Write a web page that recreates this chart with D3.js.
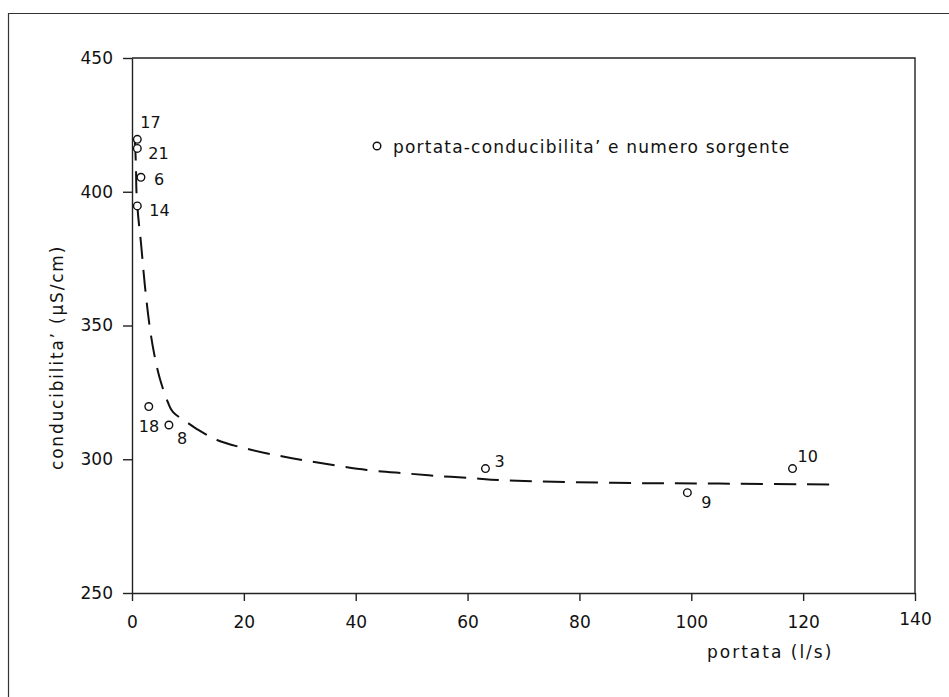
<!DOCTYPE html>
<html>
<head>
<meta charset="utf-8">
<script src="https://cdn.jsdelivr.net/npm/d3@7"></script>
<style>
  body { margin: 0; background: #fff; }
  svg text { font-family: "DejaVu Sans", sans-serif; fill: #111; }
  .axis path, .axis line { stroke: #222; stroke-width: 1.4; }
</style>
</head>
<body>
<div id="chart-area"></div>
<script>
// springs: number, discharge (l/s), conductivity (uS/cm)
var springIds = ["17", "21", "6", "14", "18", "8", "3", "9", "10"]
var portata = [0.95, 0.95, 1.6, 0.95, 3.0, 6.6, 63.2, 99.3, 118.1]
var conducibilita = [419.6, 416.2, 405.4, 394.7, 319.7, 312.8, 296.5, 287.5, 296.5]

// fitted trend (dashed)
var trendX = [0.5, 0.7, 0.8, 1.1, 1.6, 2.3, 3.2, 4.0, 5.0, 6.4, 7.3, 10, 11.6, 15.2, 20, 27, 34, 42, 49, 55, 61, 66, 86, 105, 125]
var trendY = [420, 410, 400, 391, 381, 365, 349, 339, 330, 321.4, 317.7, 313.6, 311.3, 307.2, 304.2, 301, 298.5, 296, 294.7, 293.7, 292.9, 292.2, 291.2, 290.9, 290.6]

var xTicks = [0, 20, 40, 60, 80, 100, 120, 140]
var yTicks = [250, 300, 350, 400, 450]

var legendText = "portata-conducibilita\u2019 e numero sorgente"
var xTitle = "portata (l/s)"
var yTitle = "conducibilita\u2019 (\u00b5S/cm)"

// label placement relative to each point (pixels)
var labelOffset = {
  "17": [3, -11], "21": [11, 11], "6": [13, 8], "14": [12, 10],
  "18": [-10, 25], "8": [8, 19], "3": [9, -2], "10": [5, -7], "9": [14, 15]
}

var margin = { left: 132, top: 58, right: 34, bottom: 104 }
var W = 949, H = 697
var width = W - margin.left - margin.right,
    height = H - margin.top - margin.bottom

var svg = d3.select("#chart-area").append("svg")
    .attr("width", W)
    .attr("height", H)

// page frame
svg.append("path")
  .attr("d", "M8.5," + H + " V13.5 H" + W)
  .attr("fill", "none")
  .attr("stroke", "#333")
  .attr("stroke-width", 1.2)

var g = svg.append("g")
    .attr("transform", "translate(" + margin.left + "," + margin.top + ")")

var x = d3.scaleLinear().domain([0, 140]).range([0, width])
var y = d3.scaleLinear().domain([250, 450]).range([height, 0])

var xAxis = g.append("g")
  .attr("class", "x axis")
  .attr("transform", "translate(0," + height + ")")
  .call(d3.axisBottom(x).tickValues(xTicks).tickSize(8).tickSizeOuter(0).tickPadding(15))
xAxis.selectAll("text").attr("font-size", "17px")
xAxis.selectAll("text").filter(function(d) { return d === 140 }).attr("y", 20)

var yAxis = g.append("g")
  .attr("class", "y axis")
  .call(d3.axisLeft(y).tickValues(yTicks).tickSize(9).tickSizeOuter(0).tickPadding(10))
yAxis.selectAll("text").attr("font-size", "17px")

g.selectAll(".axis").attr("font-family", null)

// top and right edges of the plot box
g.append("path")
  .attr("d", "M0,0 H" + width + " V" + height)
  .attr("fill", "none")
  .attr("stroke", "#222")
  .attr("stroke-width", 1.4)

// axis titles
g.append("text")
  .attr("x", 707 - margin.left)
  .attr("y", 658 - margin.top)
  .attr("font-size", "17px")
  .attr("letter-spacing", "2px")
  .text(xTitle)

g.append("text")
  .attr("transform", "translate(" + (63 - margin.left) + "," + (470 - margin.top) + ") rotate(-90)")
  .attr("font-size", "17px")
  .attr("letter-spacing", "1.8px")
  .text(yTitle)

// dashed trend curve
var trend = trendX.map(function(d, i) { return [d, trendY[i]] })
var line = d3.line()
  .x(function(d) { return x(d[0]) })
  .y(function(d) { return y(d[1]) })
  .curve(d3.curveCatmullRom.alpha(0.5))

g.append("path")
  .datum(trend)
  .attr("d", line)
  .attr("fill", "none")
  .attr("stroke", "#111")
  .attr("stroke-width", 2)
  .attr("stroke-dasharray", "22,11")

// points
var springs = springIds.map(function(id, i) {
  return { id: id, q: portata[i], c: conducibilita[i] }
})

g.selectAll("circle.pt")
  .data(springs)
  .enter().append("circle")
    .attr("class", "pt")
    .attr("cx", function(d) { return x(d.q) })
    .attr("cy", function(d) { return y(d.c) })
    .attr("r", 3.8)
    .attr("fill", "#fff")
    .attr("stroke", "#111")
    .attr("stroke-width", 1.4)

g.selectAll("text.pt-label")
  .data(springs)
  .enter().append("text")
    .attr("class", "pt-label")
    .attr("x", function(d) { return x(d.q) + labelOffset[d.id][0] })
    .attr("y", function(d) { return y(d.c) + labelOffset[d.id][1] })
    .attr("font-size", "16px")
    .text(function(d) { return d.id })

// legend
var legend = g.append("g")
  .attr("transform", "translate(" + (377 - margin.left) + "," + (146 - margin.top) + ")")
legend.append("circle")
  .attr("r", 3.8)
  .attr("fill", "#fff")
  .attr("stroke", "#111")
  .attr("stroke-width", 1.4)
legend.append("text")
  .attr("x", 16)
  .attr("y", 7)
  .attr("font-size", "17px")
  .attr("letter-spacing", "1.2px")
  .text(legendText)
</script>
</body>
</html>
